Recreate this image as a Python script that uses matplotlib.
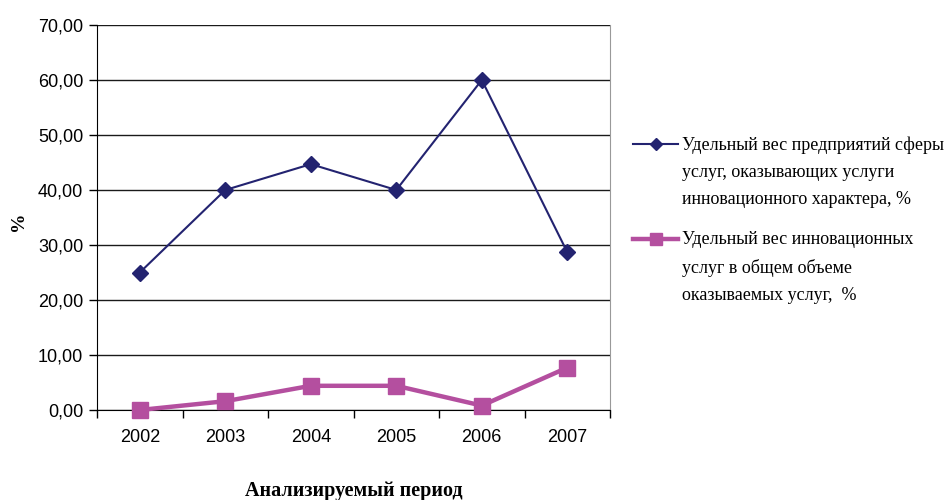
import matplotlib
matplotlib.use("Agg")
import matplotlib.pyplot as plt
from matplotlib.ticker import FuncFormatter

years = ["2002", "2003", "2004", "2005", "2006", "2007"]
share_firms = [25.0, 40.0, 44.7, 40.0, 60.0, 28.7]
share_services = [0.0, 1.6, 4.4, 4.4, 0.8, 7.7]

label_firms = "Удельный вес предприятий сферы\nуслуг, оказывающих услуги\nинновационного характера, %"
label_services = "Удельный вес инновационных\nуслуг в общем объеме\nоказываемых услуг,  %"

fig = plt.figure(figsize=(9.44, 5.0), dpi=100)
ax = fig.add_axes([0.1028, 0.18, 0.5434, 0.77])

x = list(range(len(years)))
ax.plot(x, share_firms, color="#232370", lw=1.5, marker="D", ms=8,
        label=label_firms, zorder=3)
ax.plot(x, share_services, color="#b44f9f", lw=3.2, marker="s", ms=11.5,
        label=label_services, zorder=3, clip_on=False)

ax.set_xlim(-0.5, len(years) - 0.5)
ax.set_ylim(0, 70)
ax.set_yticks(range(0, 71, 10))
ax.yaxis.set_major_formatter(FuncFormatter(lambda v, p: f"{v:.2f}".replace(".", ",")))
ax.set_xticks(x)
ax.set_xticklabels(years)
ax.set_xticks([i - 0.5 for i in range(len(years) + 1)], minor=True)
ax.tick_params(axis="x", which="major", length=0, pad=14, labelsize=13)
ax.tick_params(axis="x", which="minor", length=6, width=1, direction="out")
ax.tick_params(axis="y", length=6, width=1, direction="out", labelsize=13, pad=4)
for lab in ax.get_xticklabels() + ax.get_yticklabels():
    lab.set_family("Liberation Sans")

ax.grid(axis="y", color="#1a1a1a", lw=1)
ax.set_axisbelow(True)
ax.spines["top"].set_visible(False)
ax.spines["right"].set_color("#999999")
ax.spines["left"].set_color("black")
ax.spines["bottom"].set_color("black")

ax.set_xlabel("Анализируемый период", family="Liberation Serif", fontweight="bold",
              fontsize=14.5)
ax.xaxis.set_label_coords(0.5, -0.185)
ax.set_ylabel("%", family="Liberation Serif", fontweight="bold", fontsize=14)
ax.yaxis.set_label_coords(-0.154, 0.49)
ax.yaxis.label.set_va("center")

leg = fig.legend(loc="upper left", bbox_to_anchor=(0.6705, 0.727), frameon=False,
                 prop={"family": "Liberation Serif", "size": 13}, handlelength=2.5,
                 handleheight=1.2, handletextpad=0.2, labelspacing=1.32,
                 borderaxespad=0, borderpad=0, markerscale=0.75)
for t in leg.get_texts():
    t.set_linespacing(1.75)
# handle next to the first line of each label, as in Excel
for col in leg._legend_handle_box.get_children():
    for row in col.get_children():
        row.align = "top"

fig.savefig("out.png", dpi=100)
